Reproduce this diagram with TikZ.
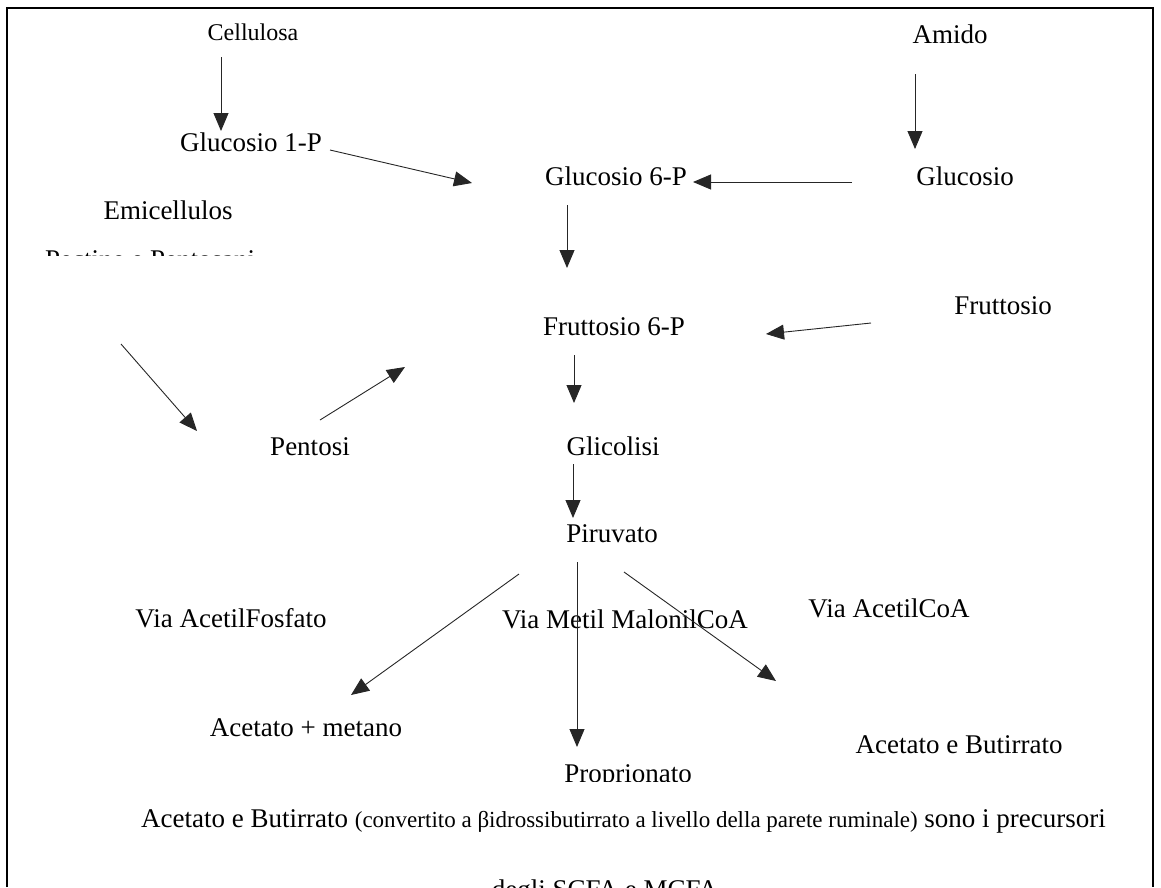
\documentclass[tikz,border=0pt]{standalone}
\usepackage{fontspec}
\setmainfont{Liberation Serif}
\usetikzlibrary{arrows.meta}
\begin{document}
\begin{tikzpicture}[x=1pt,y=-1pt,
  lbl/.style={inner sep=0pt, anchor=base, font=\fontsize{27}{30}\selectfont},
  small/.style={inner sep=0pt, anchor=base, font=\fontsize{24}{27}\selectfont},
  arr/.style={draw=black!85, line width=0.9pt, -{Triangle[length=18pt,width=15pt]}},
  frame/.style={line width=2pt}
]
\useasboundingbox (0,0) rectangle (1161,887);
\draw[frame] (7,887) -- (7,8) -- (1153,8) -- (1153,887);

% labels
\node[small] (cell) at (253,40) {Cellulosa};
\node[lbl] (amido) at (950,43) {Amido};
\node[lbl] (g1p) at (251,151) {Glucosio 1-P};
\node[lbl] (g6p) at (616,185) {Glucosio 6-P};
\node[lbl] (glu) at (965,185) {Glucosio};
\node[lbl] (emi) at (168,219) {Emicellulos};
\begin{scope}
  \clip (0,0) rectangle (1161,255);
  \node[lbl, anchor=base west] (pect) at (45,268) {Pectine e Pentosani};
\end{scope}
\node[lbl] (frut) at (1003,314) {Fruttosio};
\node[lbl] (f6p) at (614,335) {Fruttosio 6-P};
\node[lbl] (pent) at (310,455) {Pentosi};
\node[lbl] (glic) at (613,455) {Glicolisi};
\node[lbl] (piru) at (612,542) {Piruvato};
\node[lbl] (vaf) at (231,627) {Via AcetilFosfato};
\node[lbl] (vmm) at (625,628) {Via Metil MalonilCoA};
\node[lbl] (vac) at (889,617) {Via AcetilCoA};
\node[lbl] (acm) at (306,736) {Acetato + metano};
\node[lbl] (acb) at (959,753) {Acetato e Butirrato};
\begin{scope}
  \clip (0,0) rectangle (1161,781);
  \node[lbl] (prop) at (628,782) {Proprionato};
\end{scope}
\node[lbl, anchor=base west] (nota) at (141,827) {Acetato e Butirrato {\fontsize{23}{26}\selectfont (convertito a βidrossibutirrato a livello della parete ruminale)} sono i precursori};
\begin{scope}
  \clip (0,0) rectangle (1161,887);
  \node[lbl] (nota2) at (605,898) {degli SCFA e MCFA};
\end{scope}

% connector ends
\coordinate (a1s) at (221,57);  \coordinate (a1e) at (221,131);
\coordinate (a2s) at (330,150); \coordinate (a2e) at (472,183);
\coordinate (a3s) at (915,74);  \coordinate (a3e) at (915,149);
\coordinate (a4s) at (852,182); \coordinate (a4e) at (693,182);
\coordinate (a5s) at (567,205); \coordinate (a5e) at (567,268);
\coordinate (a6s) at (871,323); \coordinate (a6e) at (766,334);
\coordinate (a7s) at (574,355); \coordinate (a7e) at (574,403);
\coordinate (a8s) at (121,344); \coordinate (a8e) at (197,431);
\coordinate (a9s) at (320,420); \coordinate (a9e) at (405,367);
\coordinate (a10s) at (573,464); \coordinate (a10e) at (573,518);
\coordinate (a11s) at (519,574); \coordinate (a11e) at (351,695);
\coordinate (a12s) at (577,562); \coordinate (a12e) at (577,747);
\coordinate (a13s) at (624,572); \coordinate (a13e) at (776,681);

\draw[arr] (a1s) -- (a1e);
\draw[arr] (a2s) -- (a2e);
\draw[arr] (a3s) -- (a3e);
\draw[arr] (a4s) -- (a4e);
\draw[arr] (a5s) -- (a5e);
\draw[arr] (a6s) -- (a6e);
\draw[arr] (a7s) -- (a7e);
\draw[arr] (a8s) -- (a8e);
\draw[arr] (a9s) -- (a9e);
\draw[arr] (a10s) -- (a10e);
\draw[arr] (a11s) -- (a11e);
\draw[arr] (a12s) -- (a12e);
\draw[arr] (a13s) -- (a13e);
\end{tikzpicture}
\end{document}
